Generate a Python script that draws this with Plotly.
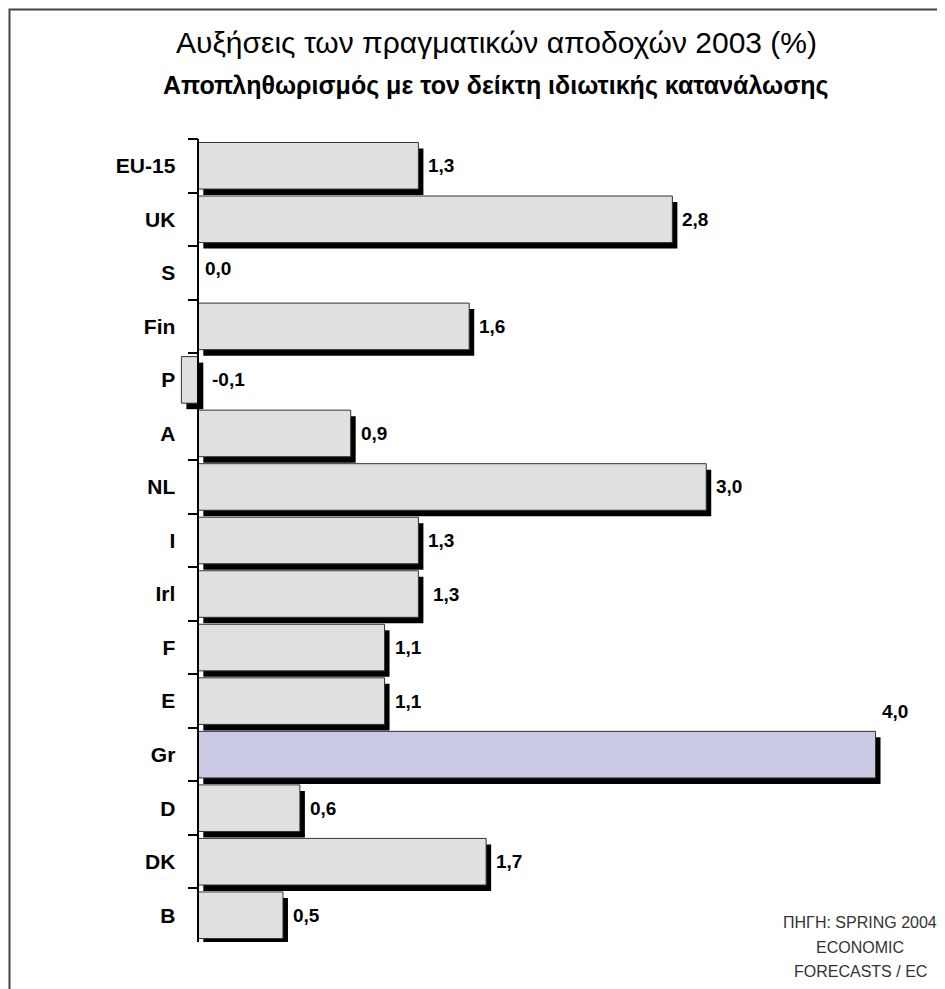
import plotly.graph_objects as go

# data, top to bottom as in the chart
countries = ["EU-15", "UK", "S", "Fin", "P", "A", "NL", "I", "Irl", "F", "E", "Gr", "D", "DK", "B"]
growth = [1.3, 2.8, 0.0, 1.6, -0.1, 0.9, 3.0, 1.3, 1.3, 1.1, 1.1, 4.0, 0.6, 1.7, 0.5]
highlight = "Gr"

title_text = "Αυξήσεις των πραγματικών αποδοχών 2003 (%)"
subtitle_text = "Αποπληθωρισμός με τον δείκτη ιδιωτικής κατανάλωσης"
source_lines = ["ΠΗΓΗ: SPRING 2004", "ECONOMIC", "FORECASTS / EC"]

# the page body adds an 8px margin, so the figure is 8px smaller and
# every position below is given in window pixels then moved by OFF
OFF = 8
W, H = 945 - OFF, 989 - OFF
L, R, T, B = 178 - OFF, 25 - OFF, 139 - OFF, 47
x_range = [-0.12, 4.31]
plot_w = W - L - R
plot_h = H - T - B
n = len(countries)
px_per_unit = plot_w / (x_range[1] - x_range[0])
px_per_cat = plot_h / n

# drop shadow offset (px) -> axis units
dx = 5 / px_per_unit
dy = 6 / px_per_cat


def paper_x(px):
    return (px - OFF - L) / plot_w


def paper_y(py):
    return (H - B - (py - OFF)) / plot_h


FONT = "Liberation Sans, Arial, sans-serif"
bar_colors = ["#c9c9e3" if c == highlight else "#e0e0e0" for c in countries]
labels = [f"{v:.1f}".replace(".", ",") for v in growth]

fig = go.Figure()

# black drop shadow, on a slightly shifted pair of axes
fig.add_trace(go.Bar(
    y=countries, x=growth, orientation="h", width=0.87,
    marker=dict(color="black", line=dict(width=0)),
    xaxis="x", yaxis="y", hoverinfo="skip", showlegend=False,
))

# main bars
fig.add_trace(go.Bar(
    y=countries, x=growth, orientation="h", width=0.87,
    marker=dict(color=bar_colors, line=dict(color="#333333", width=1)),
    xaxis="x2", yaxis="y2", showlegend=False,
))

# value labels, a few sit a bit off like in the original
nudge = {"S": (5, 4), "P": (12, 0), "Irl": (13, 0), "Gr": (4, 43)}
annotations = []
for c, v, t in zip(countries, growth, labels):
    xs, ys = nudge.get(c, (8, 0))
    annotations.append(dict(
        x=max(v, 0), y=c, xref="x2", yref="y2", text=t, showarrow=False,
        xanchor="left", yanchor="middle", xshift=xs, yshift=ys,
        font=dict(family=FONT, size=19, color="black", weight="bold"),
    ))

annotations.append(dict(
    x=paper_x(496), y=paper_y(43), xref="paper", yref="paper", text=title_text,
    showarrow=False, xanchor="center", yanchor="middle",
    font=dict(family=FONT, size=30, color="black"),
))
annotations.append(dict(
    x=paper_x(496), y=paper_y(86), xref="paper", yref="paper", text=subtitle_text,
    showarrow=False, xanchor="center", yanchor="middle",
    font=dict(family=FONT, size=25, color="black", weight="bold"),
))
for i, line in enumerate(source_lines):
    annotations.append(dict(
        x=paper_x(860), y=paper_y(922 + 25 * i), xref="paper", yref="paper", text=line,
        showarrow=False, xanchor="center", yanchor="middle",
        font=dict(family=FONT, size=16, color="#333333"),
    ))

zero_pos = (0 - x_range[0]) / (x_range[1] - x_range[0])

fig.update_layout(
    width=W, height=H,
    margin=dict(l=L, r=R, t=T, b=B, pad=0),
    paper_bgcolor="white", plot_bgcolor="white",
    barmode="overlay",
    annotations=annotations,
    xaxis=dict(range=[x_range[0] - dx, x_range[1] - dx], visible=False, fixedrange=True),
    yaxis=dict(type="category", categoryorder="array", categoryarray=countries,
               range=[n - 0.5 - dy, -0.5 - dy], visible=False, fixedrange=True),
    xaxis2=dict(range=x_range, overlaying="x", anchor="y2", visible=False, fixedrange=True),
    yaxis2=dict(type="category", categoryorder="array", categoryarray=countries,
                range=[n - 0.5, -0.5], overlaying="y", anchor="free", position=zero_pos,
                showline=True, linecolor="black", linewidth=1.5, showgrid=False,
                ticks="outside", tickson="boundaries", ticklen=10, tickcolor="black",
                tickwidth=1.5, ticklabelstandoff=18,
                tickfont=dict(family=FONT, size=21, color="black", weight="bold"),
                fixedrange=True),
    # outer frame; only its left and top edges fall inside the picture
    shapes=[dict(type="rect", xref="paper", yref="paper",
                 x0=paper_x(OFF + 1.5), x1=paper_x(970),
                 y0=paper_y(1010), y1=paper_y(OFF + 1.5),
                 line=dict(color="#444444", width=2))],
)

fig.write_html("out.html")
